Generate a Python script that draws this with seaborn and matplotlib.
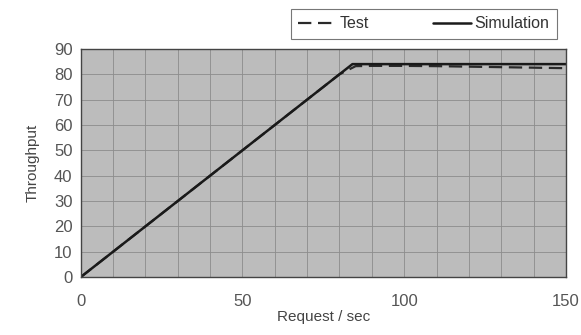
import numpy as np
import pandas as pd
import matplotlib
matplotlib.use("Agg")
import matplotlib.pyplot as plt
import seaborn as sns

# values
sim_x = [0, 84, 150]
sim_y = [0, 84, 84]
test_x = [0, 10, 20, 30, 40, 50, 60, 70, 80, 85, 90, 100, 110, 120, 130, 140, 150]
test_y = [0, 10, 20, 30, 40, 50, 60, 70, 80, 83.2, 83.3, 83.3, 83.2, 83.0, 82.8, 82.6, 82.4]

x_ticks = [0, 50, 100, 150]
y_ticks = [0, 10, 20, 30, 40, 50, 60, 70, 80, 90]

sns.set_theme(style="white")
plt.rcParams['font.family'] = ['Liberation Sans', 'DejaVu Sans']

fig = plt.figure(figsize=(5.81, 3.35), dpi=100)
ax = fig.add_axes([0.139, 0.173, 0.835, 0.681])
ax.set_facecolor('#bcbcbc')

df_test = pd.DataFrame({'x': test_x, 'y': test_y})
df_sim = pd.DataFrame({'x': sim_x, 'y': sim_y})
sns.lineplot(data=df_test, x='x', y='y', ax=ax, color='#2a2a2a', lw=1.6,
             linestyle=(0, (6, 3)), label='Test')
sns.lineplot(data=df_sim, x='x', y='y', ax=ax, color='#1a1a1a', lw=1.8,
             label='Simulation')

ax.set_xlim(0, 150)
ax.set_ylim(0, 90)
ax.set_xticks(x_ticks)
ax.set_yticks(y_ticks)
ax.set_xticks(np.arange(0, 151, 10), minor=True)
ax.grid(True, which='both', color='#8c8c8c', lw=0.6)
ax.set_axisbelow(True)
for s in ax.spines.values():
    s.set_color('#444444')
    s.set_linewidth(1.0)
ax.tick_params(axis='both', labelsize=12, colors='#555555', length=0, pad=6)
ax.tick_params(axis='x', pad=12)
ax.set_xlabel('Request / sec', fontsize=11, color='#444444', labelpad=1)
ax.set_ylabel('Throughput', fontsize=11, color='#444444', labelpad=10)

leg = ax.legend(loc='lower right', bbox_to_anchor=(0.981, 1.045), ncol=2,
                frameon=True, fancybox=False, fontsize=11.5, handlelength=2.4,
                columnspacing=4.0, borderpad=0.45, handletextpad=0.2,
                borderaxespad=0)
leg.get_frame().set_edgecolor('#555555')
leg.get_frame().set_linewidth(0.8)
for t in leg.get_texts():
    t.set_color('#333333')

fig.savefig('out.png', dpi=100)
